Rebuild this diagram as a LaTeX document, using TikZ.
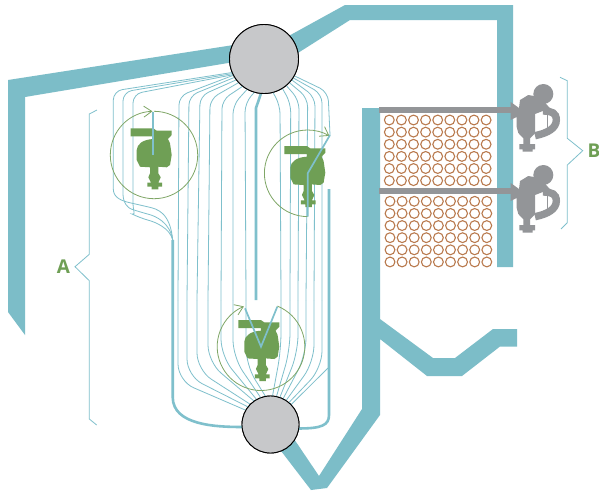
\documentclass[tikz,border=0pt]{standalone}
\usepackage{fontspec}
\setmainfont{Open Sans}
\usetikzlibrary{arrows.meta}
\definecolor{duct}{HTML}{7CBDC8}
\definecolor{tubec}{HTML}{7FC0CC}
\definecolor{burn}{HTML}{6F9F55}
\definecolor{ringc}{HTML}{7FA666}
\definecolor{steel}{HTML}{939598}
\definecolor{drumc}{HTML}{C7C8CA}
\definecolor{coil}{HTML}{B97A4E}
\tikzset{
  ductwall/.style={fill=duct,draw=none},
  tube/.style={draw=tubec,line width=0.8pt,rounded corners=9pt},
  lowtube/.style={draw=tubec,line width=0.8pt,rounded corners=17pt},
  thicktube/.style={draw=tubec,line width=2.6pt},
  jet/.style={draw=tubec,line width=1.7pt},
  drum/.style={circle,draw=black,line width=0.9pt,fill=drumc,inner sep=0pt,outer sep=0pt},
  ring/.style={draw=ringc,line width=0.8pt},
  ringarrow/.style={ring,-{Straight Barb[length=8pt,width=11pt,line width=0.8pt]}},
  bracket/.style={draw=tubec,line width=0.8pt},
  tag/.style={text=burn,font=\fontsize{19}{19}\selectfont\bfseries,inner sep=0pt},
  coilring/.style={draw=coil,line width=1.1pt},
}
\begin{document}
\begin{tikzpicture}[x=1pt,y=-1pt]
\useasboundingbox (0,0) rectangle (599,491);
\fill[white] (0,0) rectangle (599,491);
% ducts
\fill[ductwall] (8,312) -- (25,335) -- (25,97) -- (240,61) -- (240,44) -- (8,80) -- cycle;
\fill[ductwall] (285,38) -- (345,5) -- (513,5) -- (513,267) -- (497,267) -- (497,20) -- (350,20) -- (290,58) -- cycle;
\fill[ductwall] (362,108) -- (380,108) -- (380,319) -- (433,358) -- (455,358) -- (493,329) -- (517,329) -- (517,346.5) -- (500,346.5) -- (462,376) -- (427,376) -- (380,339) -- (380,415) -- (327,488) -- (311,490) -- (278,447) -- (290,433) -- (319,476) -- (362,409) -- cycle;
% drums (positions used by the tubes)
\node[drum,minimum size=69pt] (drumT) at (264,59) {};
\node[drum,minimum size=57pt] (drumB) at (270.5,424.5) {};
% coils
\foreach \i in {0,...,8}{\foreach \j in {0,...,5}{
  \draw[coilring] ({389.3+12.1*\i},{120+12.13*\j}) circle[radius=4.9pt];
  \draw[coilring] ({390+12.1*\i},{201.3+12.13*\j}) circle[radius=4.9pt];
}}
% wing tubes
\draw[tube] (drumT.203) -- (113.3,91) -- (113.3,180) .. controls (113.3,198) and (122,201) .. (140,205) .. controls (157,209) and (170,212) .. (172.7,240);
\draw[tube] (drumT.205) -- (123,92) -- (123,185) .. controls (123,203) and (128,208) .. (140,212) .. controls (155,216) and (170,222) .. (172.7,240);
\draw[tube] (drumT.207) -- (133,94) -- (133,195) .. controls (133,210) and (136,216) .. (140,218) .. controls (155,222) and (170,228) .. (172.7,240);
% wall tubes, drum to drum
\foreach \ta/\xt/\yt/\xb/\yb/\ba in {
  208/179/96/178/381/150, 212/189/96/187/376/142, 217/200/96/197/370/135,
  223/210/99/208/362/125, 232/222/100/221/356/119, 241/233/105/233/357/110,
  254/245/103/246/365/100,
  285/280/105/281/350/86, 302/290.7/103/290/350/78, 310/299/100/298/352/71,
  317/307.7/98/306/355/64, 323/315/97/314/362/57, 327/322/94/322/368/50}
{\draw[tube] (drumT.\ta) -- (\xt,\yt) -- (\xb,300);
 \draw[lowtube] (\xb,300) -- (\xb,\yb) -- (drumB.\ba);}
% short and thick tubes
\coordinate (tipB) at (330,135);
\coordinate (rightTop) at (329,189);
\coordinate (leftTop) at (172.7,240);
\coordinate (lanceEnd) at (256,300);
\coordinate (rightKink) at (328,368);
\draw[tube] (drumT.331) -- (328,92) -- (tipB);
\draw[tube] (rightKink) -- (drumB.44);
\draw[thicktube] (drumT.265) -- (256,108) -- (lanceEnd);
\draw[thicktube] (leftTop) -- (172.7,397) .. controls (172.7,425) and (215,427) .. (drumB.185);
\draw[thicktube] (rightTop) -- (329,415) .. controls (329,425) and (322,428.5) .. (drumB.352);
% green burners
\foreach \dx/\dy in {0/0,153.6/17.7,107.6/191.7}{
\begin{scope}[shift={(\dx,\dy)}]
\fill[burn] (130.7,128.3) -- (153.3,128.3) -- (156.7,130.7) -- (171.7,130.7) -- (171.7,135) -- (168,139) -- (170,143.3) -- (171.7,155) -- (170,165) -- (166.7,167.3) -- (158.3,166.7) -- (158.3,173.3) -- (160.7,177.3) -- (158.3,182.7) -- (162,182.7) -- (162,186.7) -- (158.3,186.7) -- (158.3,189.3) -- (151.7,189.3) -- (151.7,186.7) -- (147.3,186.7) -- (147.3,182.7) -- (151,182.7) -- (148.3,177.3) -- (150,173.3) -- (150,167.3) -- (140,166.7) -- (136.7,160) -- (136.7,150) .. controls (137,144) and (143,139.5) .. (153.3,139) -- (153.3,136.3) -- (130.7,136.3) -- cycle;
\end{scope}}
% firing rings and jets
\coordinate (ca) at (154,155);
\coordinate (cb) at (307.7,173.3);
\coordinate (cc) at (261,346.7);
\coordinate (ja) at (152.7,112);
\coordinate (jb) at (307.7,216.5);
\coordinate (jc) at (245,308.3);
\coordinate (jd) at (277.3,306.7);
\draw[ringarrow] (ca) ++(90:43.7pt) arc[start angle=90,end angle=-268,radius=43.7pt];
\draw[ringarrow] (cb) ++(270:43.3pt) arc[start angle=270,end angle=60,radius=43.3pt];
\draw[ringarrow] (cc) ++(68:43.8pt) arc[start angle=68,end angle=-247,radius=43.8pt];
\draw[jet] (ja) -- (152.7,155);
\draw[jet] (tipB) -- (cb) -- (jb);
\draw[jet] (jc) -- (cc) -- (jd);
% grey bars
\fill[steel] (379,107) rectangle (515,113);
\fill[steel] (379,188) rectangle (515,194);
% grey burners
\foreach \dy in {0,81}{
\begin{scope}[shift={(0,\dy)}]
\draw[steel,line width=7.4pt] (535,135.7) .. controls (548,133) and (556.3,128) .. (556.3,120) .. controls (556.3,113) and (552,111) .. (543,111);
\draw[steel,line width=1pt] (547,115) -- (547,130);
\fill[steel] (510.7,102) -- (519,108) -- (520,100) -- (528.3,95) -- (540,97) -- (550,108.3) -- (535,114) -- (535,133.3) -- (530,138.3) -- (530,144) -- (535,144) -- (535,149.3) -- (532.7,149.3) -- (532.7,151.7) -- (522.7,151.7) -- (522.7,149.3) -- (519.3,149.3) -- (519.3,144) -- (523.3,144) -- (523.3,138.3) -- (518.3,133) -- (516.7,127) -- (516.7,117) -- (510.7,120) -- cycle;
\fill[steel] (543.3,94) circle[radius=10pt];
\end{scope}}
% drums again on top of everything
\node[drum,minimum size=69pt] at (drumT) {};
\node[drum,minimum size=57pt] at (drumB) {};
% brackets
\draw[bracket] (97,110) -- (89.3,114) -- (89.3,254.3) -- (75,266.7) -- (89.3,280.7) -- (89.3,419) -- (96.7,425);
\draw[bracket] (560,77.3) -- (567.3,80.7) -- (567.3,138.3) -- (582.7,150.7) -- (567.3,165) -- (567.3,222.7) -- (561,229);
\node[tag] (labelA) at (63.5,267) {A};
\node[tag] (labelB) at (594,151) {B};
\end{tikzpicture}
\end{document}
